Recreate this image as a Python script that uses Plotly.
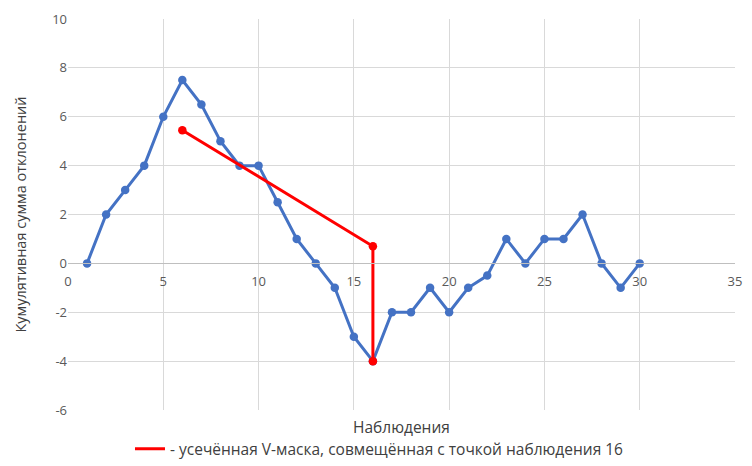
import plotly.graph_objects as go

# наблюдения и кумулятивная сумма
obs = list(range(1, 31))
cusum = [0, 2, 3, 4, 6, 7.5, 6.5, 5, 4, 4, 2.5, 1, 0, -1, -3, -4,
         -2, -2, -1, -2, -1, -0.5, 1, 0, 1, 1, 2, 0, -1, 0]

# усечённая V-маска
mask_x = [6, 16, 16]
mask_y = [5.45, 0.7, -4]

# подписи оси Y (с обычным дефисом, как в Excel)
y_ticks = [-6, -4, -2, 0, 2, 4, 6, 8, 10]
y_labels = ['-6', '-4', '-2', '0', '2', '4', '6', '8', '10']

blue = '#4472C4'
red = '#FF0000'
font = 'Open Sans'
legend_name = '- усечённая V-маска, совмещённая с точкой наблюдения 16'

fig = go.Figure()
fig.add_trace(go.Scatter(
    x=obs, y=cusum, mode='lines+markers', showlegend=False,
    line={'color': blue, 'width': 3}, marker={'color': blue, 'size': 8.5}
))
fig.add_trace(go.Scatter(
    x=mask_x, y=mask_y, mode='lines+markers', showlegend=False,
    line={'color': red, 'width': 3}, marker={'color': red, 'size': 8.5}
))
# только для легенды: линия без маркера
fig.add_trace(go.Scatter(
    x=[None], y=[None], mode='lines', name=legend_name,
    line={'color': red, 'width': 3}
))

# страница добавляет отступ 8px у body, поэтому фигура сдвинута на 8px
fig.update_layout(
    width=736, height=458,
    margin={'l': 60, 'r': 9, 't': 11, 'b': 56, 'autoexpand': False},
    plot_bgcolor='white', paper_bgcolor='white',
    font={'family': font, 'size': 13, 'color': '#595959'},
    xaxis={
        'range': [0, 35], 'dtick': 5, 'tick0': 0,
        'anchor': 'free', 'position': 0.375, 'automargin': False,
        'showgrid': True, 'gridcolor': '#d9d9d9', 'gridwidth': 1,
        'zeroline': False, 'showline': True, 'linecolor': '#bfbfbf',
        'linewidth': 1, 'ticks': '', 'ticklabelstandoff': 6,
    },
    yaxis={
        'range': [-6, 10], 'domain': [0, 1], 'automargin': False,
        'tickmode': 'array', 'tickvals': y_ticks, 'ticktext': y_labels,
        'showgrid': True, 'gridcolor': '#d9d9d9', 'gridwidth': 1,
        'zeroline': False, 'showline': False, 'ticks': '',
        'title': {'text': 'Кумулятивная сумма отклонений',
                  'font': {'size': 14.5, 'color': '#404040'}, 'standoff': 22},
    },
    legend={
        'orientation': 'h', 'x': 0.467, 'xanchor': 'center',
        'y': -0.057, 'yanchor': 'top',
        'font': {'size': 15.5, 'color': '#404040'},
    },
    annotations=[{
        'text': 'Наблюдения', 'xref': 'paper', 'yref': 'paper',
        'x': 0.5, 'y': -0.01, 'xanchor': 'center', 'yanchor': 'top',
        'showarrow': False, 'font': {'size': 15.5, 'color': '#404040'},
    }],
)

fig.write_html('out.html')
